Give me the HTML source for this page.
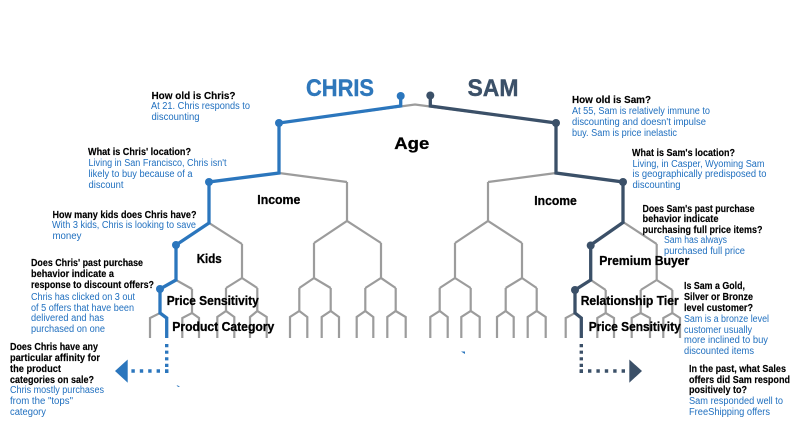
<!DOCTYPE html>
<html><head><meta charset="utf-8"><style>
html,body{margin:0;padding:0;background:#fff}
svg{display:block}
text{font-family:"Liberation Sans",sans-serif}
.q{font-size:10px;font-weight:bold;fill:#000;stroke:#000;stroke-width:.15px}
.a{font-size:10px;fill:#1f6fbf}
.l{font-weight:bold;fill:#000;font-size:12.5px;stroke:#000;stroke-width:.3px}
.g{fill:none;stroke:#9c9c9c;stroke-width:2.2;stroke-linejoin:miter}
.b{fill:none;stroke:#2b76bd;stroke-width:3.3}
.d{fill:none;stroke:#3b5068;stroke-width:3.3}
</style></head><body>
<svg width="798" height="433" viewBox="0 0 798 433" xmlns="http://www.w3.org/2000/svg">
<g class="g">
<path d="M279 123L415 104.5L556 123"/>
<path d="M279 123V173M209 182L279 173L347 182M556 123V173M488 182L556 173L623 182"/>
<path d="M209 182V223M176 245L209 223L242 244M347 182V221M314 243L347 221L381 243M488 182V221M455 243L488 221L522 243M623 182V222M590.7 245L623 222L656.7 244"/>
<path d="M176 245V280M160 289L176 280L192 289M242 244V278M226 288L242 278L257.3 288M314 243V278M299.3 288L314 278L330.7 288M381 243V278M365.3 288L381 278L395.7 288M455 243V278M439.7 288L455 278L470.7 288M522 243V278M505.7 288L522 278L536.7 288M590.7 245V280M575 290L590.7 280L605.7 290M656.7 244V280M640.7 290L656.7 280L672.3 290"/>
<path d="M160 289V313M192 289V313M226 288V311M257.3 288V311M299.3 288V311M330.7 288V311M365.3 288V311M395.7 288V311M439.7 288V311M470.7 288V311M505.7 288V311M536.7 288V311M575 290V313M605.7 290V313M640.7 290V313M672.3 290V313"/>
<path d="M150 338V318L160 313L166.7 318V338M182.3 338V318L192 313L199 318V338M217.3 338V317L226 311L234.3 317V338M250 338V317L257.3 311L266.7 317V338M290 338V317L299.3 311L307.3 317V338M321.7 338V317L330.7 311L339 317V338M356.7 338V317L365.3 311L373.3 317V338M387.3 338V317L395.7 311L405.7 317V338M430.3 338V317L439.7 311L447.7 317V338M461.3 338V317L470.7 311L479.7 317V338M497 338V317L505.7 311L513.7 317V338M527.7 338V317L536.7 311L545.7 317V338M565.7 338V318L575 313L581.3 318V338M597.3 338V318L605.7 313L614 318V338M631.7 338V318L640.7 313L650 318V338M663.3 338V318L672.3 313L680 318V338"/>
</g>
<path class="b" d="M400.7 96V106L279 123V173L209 182V223L176 245V280L160 289V313L166.7 318V338"/>
<path class="d" d="M430.3 96V106L556 123V173L623 182V222.5L590.7 245V280L575 290V313L581.3 318V338"/>
<g fill="#2b76bd"><circle cx="400.7" cy="96" r="4"/><circle cx="279" cy="123" r="4"/><circle cx="209" cy="182" r="4"/><circle cx="176" cy="245" r="4"/><circle cx="160" cy="289" r="4"/>
<path d="M115 371L127.7 359.5V382.7Z"/><path d="M176.5 385L180 386.5L178 387Z"/><path d="M461 351.5L465 351.5L465 354Z"/></g>
<g fill="#3b5068"><circle cx="430.3" cy="95.5" r="4"/><circle cx="556" cy="123" r="4"/><circle cx="623" cy="182" r="4"/><circle cx="590.7" cy="245.5" r="4"/><circle cx="575" cy="290" r="4"/>
<path d="M642 371L629.3 359.5V382.7Z"/></g>
<g fill="none" stroke-width="3.4">
<path d="M166.7 344V373" stroke="#2b76bd" stroke-dasharray="3.2 3.4"/>
<path d="M168.4 371H131" stroke="#2b76bd" stroke-dasharray="3.4 5"/>
<path d="M581.3 344V373" stroke="#3b5068" stroke-dasharray="3.2 3.4"/>
<path d="M579.6 371H626" stroke="#3b5068" stroke-dasharray="3.4 5"/>
</g>

<text x="306" y="96" font-size="24" font-weight="bold" fill="#2e77bb" stroke="#2e77bb" stroke-width=".4" textLength="68" lengthAdjust="spacingAndGlyphs">CHRIS</text>
<text x="467.5" y="96" font-size="24" font-weight="bold" fill="#3b5068" stroke="#3b5068" stroke-width=".4" textLength="51" lengthAdjust="spacingAndGlyphs">SAM</text>
<text class="l" x="394.3" y="149" style="font-size:17px" textLength="35" lengthAdjust="spacingAndGlyphs">Age</text>
<text class="l" x="257.3" y="204" textLength="43" lengthAdjust="spacingAndGlyphs">Income</text>
<text class="l" x="534.3" y="205" textLength="42.5" lengthAdjust="spacingAndGlyphs">Income</text>
<text class="l" x="196.7" y="263" textLength="25" lengthAdjust="spacingAndGlyphs">Kids</text>
<text class="l" x="166.7" y="305" textLength="92" lengthAdjust="spacingAndGlyphs">Price Sensitivity</text>
<text class="l" x="172.3" y="331" textLength="102" lengthAdjust="spacingAndGlyphs">Product Category</text>
<text class="l" x="599.3" y="265" textLength="90" lengthAdjust="spacingAndGlyphs">Premium Buyer</text>
<text class="l" x="580.7" y="305" textLength="98" lengthAdjust="spacingAndGlyphs">Relationship Tier</text>
<text class="l" x="588.7" y="331" textLength="92" lengthAdjust="spacingAndGlyphs">Price Sensitivity</text>

<g>
<text class="q" x="151.5" y="99" textLength="84" lengthAdjust="spacingAndGlyphs">How old is Chris?</text>
<text class="a" x="151" y="109" textLength="99" lengthAdjust="spacingAndGlyphs">At 21. Chris responds to</text>
<text class="a" x="151.5" y="120" textLength="48" lengthAdjust="spacingAndGlyphs">discounting</text>

<text class="q" x="88" y="155" textLength="103" lengthAdjust="spacingAndGlyphs">What is Chris' location?</text>
<text class="a" x="88.5" y="166" textLength="138" lengthAdjust="spacingAndGlyphs">Living in San Francisco, Chris isn't</text>
<text class="a" x="88.5" y="177" textLength="104" lengthAdjust="spacingAndGlyphs">likely to buy because of a</text>
<text class="a" x="88.5" y="188" textLength="35" lengthAdjust="spacingAndGlyphs">discount</text>

<text class="q" x="52.5" y="218" textLength="144" lengthAdjust="spacingAndGlyphs">How many kids does Chris have?</text>
<text class="a" x="52" y="228" textLength="144" lengthAdjust="spacingAndGlyphs">With 3 kids, Chris is looking to save</text>
<text class="a" x="52.5" y="239" textLength="29" lengthAdjust="spacingAndGlyphs">money</text>

<text class="q" x="31" y="266" textLength="112" lengthAdjust="spacingAndGlyphs">Does Chris' past purchase</text>
<text class="q" x="31" y="277" textLength="83" lengthAdjust="spacingAndGlyphs">behavior indicate a</text>
<text class="q" x="31" y="288" textLength="123" lengthAdjust="spacingAndGlyphs">response to discount offers?</text>
<text class="a" x="31" y="300" textLength="104" lengthAdjust="spacingAndGlyphs">Chris has clicked on 3 out</text>
<text class="a" x="31" y="311" textLength="103" lengthAdjust="spacingAndGlyphs">of 5 offers that have been</text>
<text class="a" x="31" y="321" textLength="73" lengthAdjust="spacingAndGlyphs">delivered and has</text>
<text class="a" x="31" y="332" textLength="74" lengthAdjust="spacingAndGlyphs">purchased on one</text>

<text class="q" x="10" y="350" textLength="88" lengthAdjust="spacingAndGlyphs">Does Chris have any</text>
<text class="q" x="10" y="361" textLength="90" lengthAdjust="spacingAndGlyphs">particular affinity for</text>
<text class="q" x="10" y="372" textLength="51" lengthAdjust="spacingAndGlyphs">the product</text>
<text class="q" x="10" y="383" textLength="84" lengthAdjust="spacingAndGlyphs">categories on sale?</text>
<text class="a" x="10" y="393" textLength="94" lengthAdjust="spacingAndGlyphs">Chris mostly purchases</text>
<text class="a" x="10" y="404" textLength="63" lengthAdjust="spacingAndGlyphs">from the "tops"</text>
<text class="a" x="10" y="415" textLength="36" lengthAdjust="spacingAndGlyphs">category</text>

<text class="q" x="572" y="103" textLength="79" lengthAdjust="spacingAndGlyphs">How old is Sam?</text>
<text class="a" x="572" y="114" textLength="138" lengthAdjust="spacingAndGlyphs">At 55, Sam is relatively immune to</text>
<text class="a" x="572" y="125" textLength="134" lengthAdjust="spacingAndGlyphs">discounting and doesn't impulse</text>
<text class="a" x="572" y="136" textLength="105" lengthAdjust="spacingAndGlyphs">buy. Sam is price inelastic</text>

<text class="q" x="632" y="156" textLength="103" lengthAdjust="spacingAndGlyphs">What is Sam's location?</text>
<text class="a" x="632.5" y="167" textLength="132" lengthAdjust="spacingAndGlyphs">Living, in Casper, Wyoming Sam</text>
<text class="a" x="632.5" y="177" textLength="134" lengthAdjust="spacingAndGlyphs">is geographically predisposed to</text>
<text class="a" x="632.5" y="188" textLength="48" lengthAdjust="spacingAndGlyphs">discounting</text>

<text class="q" x="642.5" y="212" textLength="112" lengthAdjust="spacingAndGlyphs">Does Sam's past purchase</text>
<text class="q" x="642.5" y="222" textLength="76" lengthAdjust="spacingAndGlyphs">behavior indicate</text>
<text class="q" x="642.5" y="233" textLength="120" lengthAdjust="spacingAndGlyphs">purchasing full price items?</text>
<text class="a" x="664" y="243" textLength="63" lengthAdjust="spacingAndGlyphs">Sam has always</text>
<text class="a" x="664" y="254" textLength="81" lengthAdjust="spacingAndGlyphs">purchased full price</text>

<text class="q" x="684" y="289" textLength="61" lengthAdjust="spacingAndGlyphs">Is Sam a Gold,</text>
<text class="q" x="684" y="300" textLength="69" lengthAdjust="spacingAndGlyphs">Silver or Bronze</text>
<text class="q" x="684" y="311" textLength="69" lengthAdjust="spacingAndGlyphs">level customer?</text>
<text class="a" x="684" y="322" textLength="85" lengthAdjust="spacingAndGlyphs">Sam is a bronze level</text>
<text class="a" x="684" y="333" textLength="68" lengthAdjust="spacingAndGlyphs">customer usually</text>
<text class="a" x="684" y="343" textLength="84" lengthAdjust="spacingAndGlyphs">more inclined to buy</text>
<text class="a" x="684" y="354" textLength="70" lengthAdjust="spacingAndGlyphs">discounted items</text>

<text class="q" x="689" y="372" textLength="97" lengthAdjust="spacingAndGlyphs">In the past, what Sales</text>
<text class="q" x="689" y="383" textLength="101" lengthAdjust="spacingAndGlyphs">offers did Sam respond</text>
<text class="q" x="689" y="393" textLength="58" lengthAdjust="spacingAndGlyphs">positively to?</text>
<text class="a" x="689" y="404" textLength="94" lengthAdjust="spacingAndGlyphs">Sam responded well to</text>
<text class="a" x="689" y="415" textLength="81" lengthAdjust="spacingAndGlyphs">FreeShipping offers</text>
</g>
</svg>
</body></html>
